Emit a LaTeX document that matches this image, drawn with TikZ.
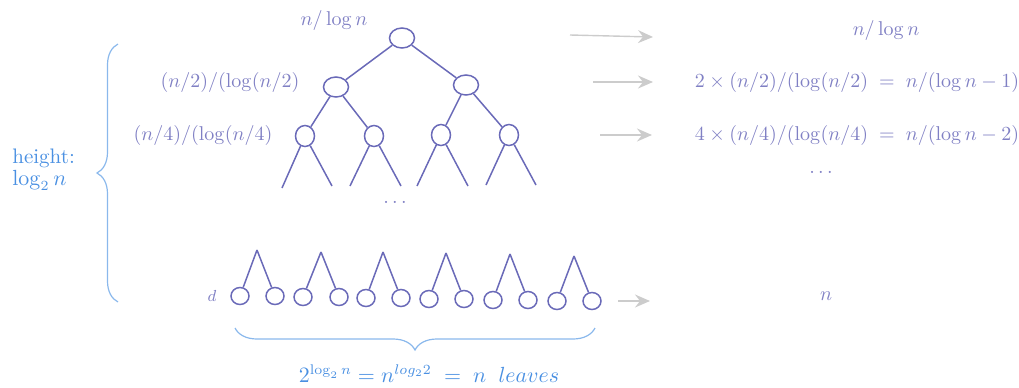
\documentclass[tikz,border=0pt]{standalone}
\usetikzlibrary{shapes.geometric,arrows.meta,decorations.pathreplacing}
\definecolor{treec}{RGB}{106,106,184}
\definecolor{txtc}{RGB}{128,128,196}
\definecolor{bluet}{RGB}{74,144,226}
\definecolor{braceb}{RGB}{138,184,236}
\definecolor{arrg}{RGB}{204,204,204}
\begin{document}
\begin{tikzpicture}[x=0.5pt,y=-0.5pt,
  tn/.style={draw=treec,line width=0.75pt,ellipse,inner sep=0pt,minimum width=12.5pt,minimum height=10pt},
  tn2/.style={draw=treec,line width=0.75pt,ellipse,inner sep=0pt,minimum width=9.5pt,minimum height=10.5pt},
  lf/.style={draw=treec,line width=0.75pt,ellipse,inner sep=0pt,minimum width=9pt,minimum height=8.5pt},
  edge/.style={draw=treec,line width=0.75pt},
  lbl/.style={text=txtc,inner sep=0pt,font=\fontsize{9.6}{11}\selectfont},
  blbl/.style={text=bluet,inner sep=0pt,font=\fontsize{10.5}{12}\selectfont},
  garr/.style={draw=arrg,line width=0.7pt,-{Stealth[length=7.5pt,width=6.5pt,inset=2.5pt]}},
  brc/.style={draw=braceb,line width=0.6pt,decorate}]
\useasboundingbox (0,0) rectangle (1019,387);
% tree
\node[tn] (r) at (402,38) {};
\node[tn] (a) at (336,87) {};
\node[tn] (b) at (466,85) {};
\node[tn2] (a1) at (305,136) {};
\node[tn2] (a2) at (374,136) {};
\node[tn2] (b1) at (441,135) {};
\node[tn2] (b2) at (509,135) {};
\draw[edge] (r) -- (a);
\draw[edge] (r) -- (b);
\draw[edge] (a) -- (a1);
\draw[edge] (a) -- (a2);
\draw[edge] (b) -- (b1);
\draw[edge] (b) -- (b2);
\coordinate (a1l) at (282,188); \coordinate (a1r) at (332,186);
\coordinate (a2l) at (350,186); \coordinate (a2r) at (401,186);
\coordinate (b1l) at (417,186); \coordinate (b1r) at (468,186);
\coordinate (b2l) at (486,185); \coordinate (b2r) at (536,185);
\draw[edge] (a1) -- (a1l); \draw[edge] (a1) -- (a1r);
\draw[edge] (a2) -- (a2l); \draw[edge] (a2) -- (a2r);
\draw[edge] (b1) -- (b1l); \draw[edge] (b1) -- (b1r);
\draw[edge] (b2) -- (b2l); \draw[edge] (b2) -- (b2r);
\node[lbl] (dots1) at (395,202) {$\dots$};
% leaves
\foreach \i/\xl/\xr/\xa/\ya in {1/240/275/257/250, 2/303/339/321/252, 3/366/401/383/252, 4/429/464/446/253, 5/493/528/510/254, 6/557/592/574/256}{
  \pgfmathsetmacro{\yy}{295+\i}
  \node[lf] (l\i) at (\xl,\yy) {};
  \node[lf] (m\i) at (\xr,\yy) {};
  \coordinate (p\i) at (\xa,\ya);
  \draw[edge] (p\i) -- (l\i);
  \draw[edge] (p\i) -- (m\i);
}
% labels left of tree
\node[lbl] (t0) at (334,20) {$n/\log n$};
\node[lbl] (t1) at (230,82) {$(n/2)/(\log(n/2)$};
\node[lbl] (t2) at (203,135) {$(n/4)/(\log(n/4)$};
\node[lbl,font=\fontsize{8}{9}\selectfont] (td) at (212,296) {$d$};
% arrows
\coordinate (s0) at (570,35); \coordinate (e0) at (653,37);
\coordinate (s1) at (593,82); \coordinate (e1) at (653,82);
\coordinate (s2) at (600,135); \coordinate (e2) at (652,135);
\coordinate (s3) at (618,301); \coordinate (e3) at (650,301);
\draw[garr] (s0) -- (e0);
\draw[garr] (s1) -- (e1);
\draw[garr] (s2) -- (e2);
\draw[garr] (s3) -- (e3);
% right texts
\node[lbl] (r0) at (886,30) {$n/\log n$};
\node[lbl] (r1) at (857,82) {$2\times(n/2)/(\log(n/2)\;=\;n/(\log n-1)$};
\node[lbl] (r2) at (857,135) {$4\times(n/4)/(\log(n/4)\;=\;n/(\log n-2)$};
\node[lbl] (r3) at (821,172) {$\dots$};
\node[lbl] (r4) at (826,296) {$n$};
% left brace
\coordinate (lb1) at (118,302); \coordinate (lb2) at (118,44);
\draw[brc,decoration={brace,amplitude=10.5pt}] (lb1) -- (lb2);
\node[blbl,align=left,anchor=west] (h) at (12,170) {height:\\[-1pt]$\log_2 n$};
% bottom brace
\coordinate (bb1) at (595,328); \coordinate (bb2) at (235,328);
\draw[brc,decoration={brace,amplitude=11pt}] (bb1) -- (bb2);
\node[blbl] (lv) at (429,374) {$2^{\log_2 n} = n^{log_2 2} \;=\; n\;\; leaves$};
\end{tikzpicture}
\end{document}
